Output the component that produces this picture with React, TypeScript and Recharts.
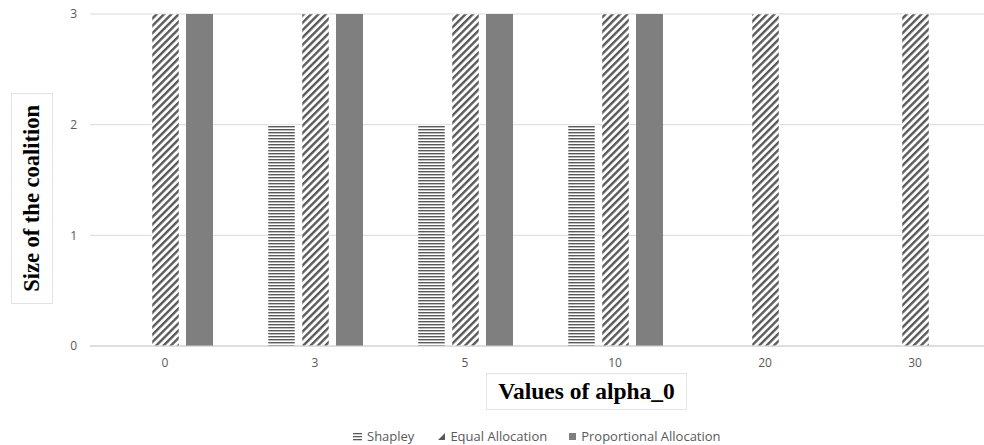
import { BarChart, Bar, XAxis, YAxis, CartesianGrid } from 'recharts';

const alphaValues = ['0', '3', '5', '10', '20', '30'];
const shapley = [0, 2, 2, 2, 0, 0];
const equalAllocation = [3, 3, 3, 3, 3, 3];
const proportionalAllocation = [3, 3, 3, 3, 0, 0];
const yTicks = [0, 1, 2, 3];

const data = alphaValues.map((alpha, i) => ({
  alpha,
  shapley: shapley[i],
  equal: equalAllocation[i],
  proportional: proportionalAllocation[i],
}));

const tickStyle = { fill: '#595959', fontSize: 12, fontFamily: '"Open Sans", sans-serif' };

function LegendItem({ icon, label, gap }: { icon: React.ReactNode; label: string; gap: number }) {
  return (
    <span style={{ display: 'inline-flex', alignItems: 'center', marginRight: gap }}>
      {icon}
      <span style={{ marginLeft: 5 }}>{label}</span>
    </span>
  );
}

export default function App() {
  return (
    <div
      style={{
        position: 'fixed',
        left: 0,
        top: 0,
        width: 984,
        height: 445,
        overflow: 'hidden',
        background: '#fff',
      }}
    >
      <BarChart
        width={1000}
        height={445}
        data={data}
        margin={{ top: 14, right: 10, left: 0, bottom: 69 }}
        barCategoryGap={28}
        barGap={7}
      >
        <defs>
          <pattern id="hlines" patternUnits="userSpaceOnUse" width="6" height="3">
            <rect width="6" height="3" fill="#fff" />
            <rect y="0" width="6" height="1.4" fill="#595959" />
          </pattern>
          <pattern
            id="dlines"
            patternUnits="userSpaceOnUse"
            width="5.2"
            height="5.2"
            patternTransform="rotate(45)"
          >
            <rect width="5.2" height="5.2" fill="#fff" />
            <rect x="0" width="2.4" height="5.2" fill="#5a5a5a" />
          </pattern>
        </defs>
        <CartesianGrid vertical={false} stroke="#d9d9d9" />
        <XAxis
          dataKey="alpha"
          tick={tickStyle}
          tickLine={false}
          tickSize={0}
          tickMargin={12}
          axisLine={{ stroke: '#d0d0d0' }}
          height={30}
        />
        <YAxis
          domain={[0, 3]}
          ticks={yTicks}
          tick={tickStyle}
          tickLine={false}
          tickSize={0}
          tickMargin={13}
          axisLine={false}
          width={90}
        />
        <Bar dataKey="shapley" fill="url(#hlines)" stroke="#fff" strokeWidth={0.5} isAnimationActive={false} />
        <Bar dataKey="equal" fill="url(#dlines)" stroke="#fff" strokeWidth={0.5} isAnimationActive={false} />
        <Bar dataKey="proportional" fill="#7f7f7f" isAnimationActive={false} />
      </BarChart>

      <div
        style={{
          position: 'absolute',
          left: 11,
          top: 93,
          width: 40,
          height: 209,
          border: '1px solid #e3e3e3',
          display: 'flex',
          alignItems: 'center',
          justifyContent: 'center',
          background: '#fff',
        }}
      >
        <span
          style={{
            writingMode: 'vertical-rl',
            transform: 'rotate(180deg)',
            fontFamily: '"Liberation Serif", serif',
            fontWeight: 'bold',
            fontSize: 22.5,
            color: '#000',
            whiteSpace: 'nowrap',
          }}
        >
          Size of the coalition
        </span>
      </div>

      <div
        style={{
          position: 'absolute',
          left: 486,
          top: 373,
          width: 199,
          height: 35,
          border: '1px solid #e3e3e3',
          display: 'flex',
          alignItems: 'center',
          justifyContent: 'center',
          background: '#fff',
          fontFamily: '"Liberation Serif", serif',
          fontWeight: 'bold',
          fontSize: 23.5,
          color: '#000',
          whiteSpace: 'nowrap',
        }}
      >
        Values of alpha_0
      </div>

      <div
        style={{
          position: 'absolute',
          left: 353,
          top: 427,
          fontFamily: '"Open Sans", sans-serif',
          fontSize: 13,
          color: '#595959',
          whiteSpace: 'nowrap',
          display: 'flex',
        }}
      >
        <LegendItem
          gap={24}
          icon={
            <svg width="9" height="9">
              <rect x="0" y="1" width="9" height="1.3" fill="#595959" />
              <rect x="0" y="4" width="9" height="1.3" fill="#595959" />
              <rect x="0" y="7" width="9" height="1.3" fill="#595959" />
            </svg>
          }
          label="Shapley"
        />
        <LegendItem
          gap={22}
          icon={
            <svg width="7" height="7">
              <polygon points="7,0 7,7 0,7" fill="#595959" />
            </svg>
          }
          label="Equal Allocation"
        />
        <LegendItem
          gap={0}
          icon={
            <svg width="7" height="7">
              <rect width="7" height="7" fill="#7f7f7f" />
            </svg>
          }
          label="Proportional Allocation"
        />
      </div>
    </div>
  );
}
